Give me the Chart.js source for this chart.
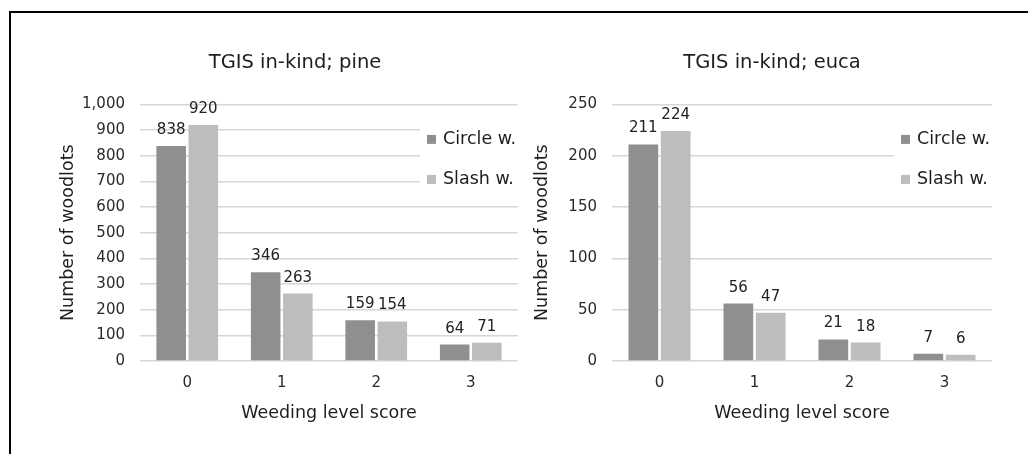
<!DOCTYPE html>
<html>
<head>
<meta charset="utf-8">
<script src="https://cdn.jsdelivr.net/npm/chart.js@4.4.1/dist/chart.umd.min.js"></script>
<style>
    body { margin: 0; background: #fff; width: 1028px; height: 454px; overflow: hidden; position: relative; }
    #frame { position: absolute; left: 9px; top: 11px; width: 1100px; height: 500px; border-top: 2px solid #000; border-left: 2px solid #000; }
    #myChart1 { position: absolute; left: 12px; top: 14px; }
    #myChart2 { position: absolute; left: 520px; top: 14px; }
</style>
</head>
<body>
<div id="frame"></div>
<canvas id="myChart1" width="508" height="440"></canvas>
<canvas id="myChart2" width="508" height="440"></canvas>
<script>
const categories = ['0', '1', '2', '3'];
const seriesNames = ['Circle w.', 'Slash w.'];
const pineCircle = [838, 346, 159, 64];
const pineSlash = [920, 263, 154, 71];
const eucaCircle = [211, 56, 21, 7];
const eucaSlash = [224, 47, 18, 6];

const darkGray = '#8f8f8f';
const lightGray = '#bdbdbd';
const textColor = '#2a2a2a';

Chart.defaults.font.family = "'DejaVu Sans', sans-serif";
Chart.defaults.color = textColor;

/* white box + legend inside the plot, value labels above the bars */
const insideLegend = {
    id: 'insideLegend',
    afterLayout(chart, args, opts) {
        // Excel puts the title a bit right of the canvas centre
        chart.titleBlock.left += opts.titleShift;
        chart.titleBlock.right += opts.titleShift;
    },
    beforeDatasetsDraw(chart) {
        const ctx = chart.ctx;
        const area = chart.chartArea;
        ctx.save();
        ctx.fillStyle = '#ffffff';
        ctx.fillRect(area.right - 98, area.top + 12, 98, 80);
        ctx.restore();
    },
    afterDatasetsDraw(chart) {
        const ctx = chart.ctx;
        const area = chart.chartArea;
        ctx.save();
        ctx.font = "17.5px 'DejaVu Sans'";
        ctx.textBaseline = 'middle';
        ctx.textAlign = 'left';
        chart.data.datasets.forEach((ds, i) => {
            const y = area.top + 35 + i * 40;
            ctx.fillStyle = ds.backgroundColor;
            ctx.fillRect(area.right - 91, y - 4.5, 9, 9);
            ctx.fillStyle = '#1e1e1e';
            ctx.fillText(ds.label, area.right - 75, y);
        });
        // value labels
        ctx.font = "15px 'DejaVu Sans'";
        ctx.textAlign = 'center';
        ctx.textBaseline = 'alphabetic';
        ctx.fillStyle = '#222';
        chart.data.datasets.forEach((ds, i) => {
            chart.getDatasetMeta(i).data.forEach((bar, j) => {
                ctx.fillText(ds.data[j], bar.x, bar.y - 12);
            });
        });
        ctx.restore();
    }
};

function makeChart(id, title, circle, slash, max, step, padLeft, padRight, axisWidth, titleShift) {
    const ctx = document.getElementById(id).getContext('2d');
    return new Chart(ctx, {
        type: 'bar',
        data: {
            labels: categories,
            datasets: [{
                label: seriesNames[0],
                data: circle,
                backgroundColor: darkGray,
                categoryPercentage: 0.68,
                barPercentage: 0.92
            }, {
                label: seriesNames[1],
                data: slash,
                backgroundColor: lightGray,
                categoryPercentage: 0.68,
                barPercentage: 0.92
            }]
        },
        options: {
            responsive: false,
            animation: false,
            layout: {
                padding: { top: 37, bottom: 30, left: padLeft, right: padRight }
            },
            plugins: {
                legend: { display: false },
                tooltip: { enabled: false },
                insideLegend: { titleShift: titleShift },
                title: {
                    display: true,
                    text: title,
                    color: '#1e1e1e',
                    font: { size: 19.5, weight: 'normal' },
                    padding: { top: 0, bottom: 30 }
                }
            },
            scales: {
                x: {
                    grid: { display: false, drawTicks: false },
                    border: { display: false },
                    ticks: { font: { size: 15 }, padding: 13, color: textColor },
                    title: {
                        display: true,
                        text: 'Weeding level score',
                        font: { size: 17.5 },
                        color: '#1e1e1e',
                        padding: { top: -2, bottom: 0 }
                    }
                },
                y: {
                    min: 0,
                    max: max,
                    afterFit(scale) { scale.width = axisWidth; },
                    grid: { color: '#d6d6d6', lineWidth: 1.5, drawTicks: false },
                    border: { display: false },
                    ticks: { stepSize: step, font: { size: 15 }, padding: 15, color: textColor },
                    title: {
                        display: true,
                        text: 'Number of woodlots',
                        font: { size: 17.5 },
                        color: '#1e1e1e',
                        padding: { top: 0, bottom: 0 }
                    }
                }
            }
        },
        plugins: [insideLegend]
    });
}

/* Configure 1st chart */
const myChart1 = makeChart('myChart1', 'TGIS in-kind; pine', pineCircle, pineSlash, 1000, 100, 46, 2, 82, 7);
/* Configure 2nd chart */
const myChart2 = makeChart('myChart2', 'TGIS in-kind; euca', eucaCircle, eucaSlash, 250, 50, 12, 36, 80, 10);
</script>
</body>
</html>
